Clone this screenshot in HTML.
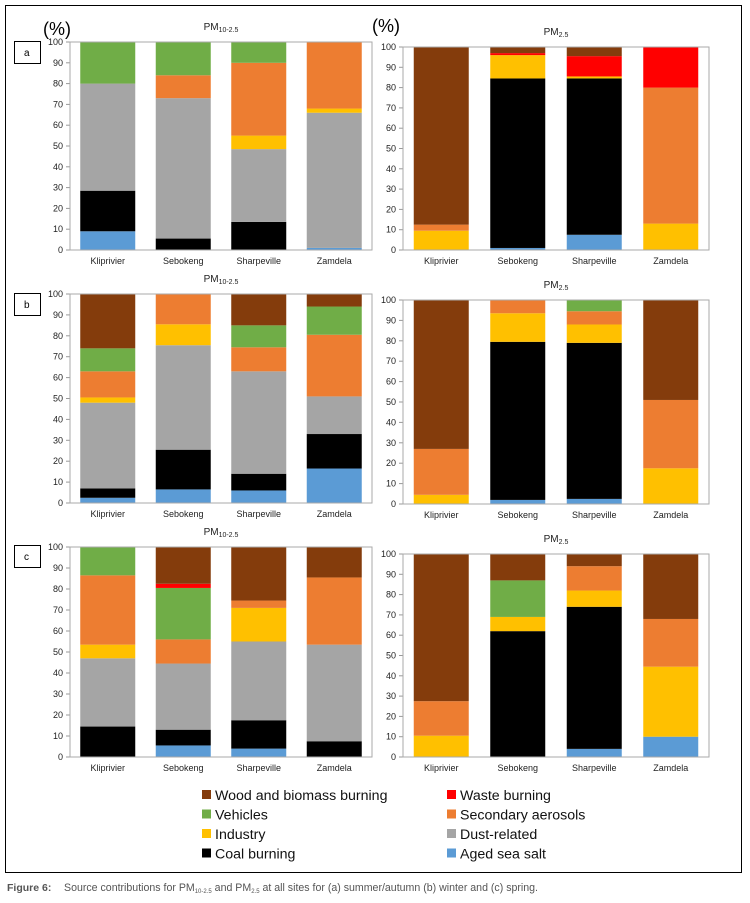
<!DOCTYPE html>
<html><head><meta charset="utf-8"><style>
body{margin:0;background:#fff;width:750px;height:903px;overflow:hidden;font-family:"Liberation Sans",sans-serif}
svg{position:absolute;left:0;top:0}
</style></head><body>
<svg id="fig" width="750" height="903" viewBox="0 0 750 903">
<rect x="5.5" y="5.5" width="736" height="867" fill="none" stroke="#000" stroke-width="1"/>
<text x="43" y="35" font-size="18" fill="#000">(%)</text>
<text x="372" y="32" font-size="18" fill="#000">(%)</text>
<g><rect x="14.5" y="41.5" width="26" height="22" fill="#fff" stroke="#000"/><text x="24" y="56" font-size="10">a</text></g>
<g><rect x="14.5" y="293.5" width="26" height="22" fill="#fff" stroke="#000"/><text x="24" y="308" font-size="10">b</text></g>
<g><rect x="14.5" y="545.5" width="26" height="22" fill="#fff" stroke="#000"/><text x="24" y="560" font-size="10">c</text></g>
<g id="charts"></g>
<g id="legend"></g>
<text x="7" y="891" font-size="10.5" fill="#555" font-weight="bold">Figure 6:</text>
<text x="64" y="891" font-size="10.6" fill="#555">Source contributions for PM<tspan font-size="6" dy="2">10-2.5</tspan><tspan dy="-2"> and PM</tspan><tspan font-size="6" dy="2">2.5</tspan><tspan dy="-2"> at all sites for (a) summer/autumn (b) winter and (c) spring.</tspan></text>
</svg>
<script>
const categories=["Kliprivier","Sebokeng","Sharpeville","Zamdela"];
const seriesNames=["Aged sea salt","Coal burning","Dust-related","Industry","Secondary aerosols","Vehicles","Waste burning","Wood and biomass burning"];
const seriesColors=["#5B9BD5","#000000","#A5A5A5","#FFC000","#ED7D31","#70AD47","#FF0000","#843C0C"];
const yTicks=[0,10,20,30,40,50,60,70,80,90,100];
// segment sizes per series (bottom-up), one value per site
const a10_seaSalt=[9,0,0,1],a10_coal=[19.5,5.5,13.5,0],a10_dust=[51.5,67.5,35,65],a10_industry=[0,0,6.5,2],a10_secondary=[0,11,35,32],a10_vehicles=[20,16,10,0],a10_waste=[0,0,0,0],a10_wood=[0,0,0,0];
const a25_seaSalt=[0,1,7.5,0],a25_coal=[0,83.5,77,0],a25_dust=[0,0,0,0],a25_industry=[9.5,11.5,1,13],a25_secondary=[3,0,0,67],a25_vehicles=[0,0,0,0],a25_waste=[0,1,10,20],a25_wood=[87.5,3,4.5,0];
const b10_seaSalt=[2.5,6.5,6,16.5],b10_coal=[4.5,19,8,16.5],b10_dust=[41,50,49,18],b10_industry=[2.5,10,0,0],b10_secondary=[12.5,14.5,11.5,29.5],b10_vehicles=[11,0,10.5,13.5],b10_waste=[0,0,0,0],b10_wood=[26,0,15,6];
const b25_seaSalt=[0,2,2.5,0],b25_coal=[0,77.5,76.5,0],b25_dust=[0,0,0,0],b25_industry=[4.5,14,9,17.5],b25_secondary=[22.5,6.5,6.5,33.5],b25_vehicles=[0,0,5.5,0],b25_waste=[0,0,0,0],b25_wood=[73,0,0,49];
const c10_seaSalt=[0,5.5,4,0],c10_coal=[14.5,7.5,13.5,7.5],c10_dust=[32.5,31.5,37.5,46],c10_industry=[6.5,0,16,0],c10_secondary=[33,11.5,3.5,32],c10_vehicles=[13.5,24.5,0,0],c10_waste=[0,2,0,0],c10_wood=[0,17.5,25.5,14.5];
const c25_seaSalt=[0,0,4,10],c25_coal=[0,62,70,0],c25_dust=[0,0,0,0],c25_industry=[10.5,7,8,34.5],c25_secondary=[17,0,12,23.5],c25_vehicles=[0,18,0,0],c25_waste=[0,0,0,0],c25_wood=[72.5,13,6,32];

const panels=[
 {id:"a-pm10",title:"10-2.5",x0:70,x1:372,yTop:42,yBot:250,s:[a10_seaSalt,a10_coal,a10_dust,a10_industry,a10_secondary,a10_vehicles,a10_waste,a10_wood]},
 {id:"a-pm25",title:"2.5",x0:403,x1:709,yTop:47,yBot:250,s:[a25_seaSalt,a25_coal,a25_dust,a25_industry,a25_secondary,a25_vehicles,a25_waste,a25_wood]},
 {id:"b-pm10",title:"10-2.5",x0:70,x1:372,yTop:294,yBot:503,s:[b10_seaSalt,b10_coal,b10_dust,b10_industry,b10_secondary,b10_vehicles,b10_waste,b10_wood]},
 {id:"b-pm25",title:"2.5",x0:403,x1:709,yTop:300,yBot:504,s:[b25_seaSalt,b25_coal,b25_dust,b25_industry,b25_secondary,b25_vehicles,b25_waste,b25_wood]},
 {id:"c-pm10",title:"10-2.5",x0:70,x1:372,yTop:547,yBot:757,s:[c10_seaSalt,c10_coal,c10_dust,c10_industry,c10_secondary,c10_vehicles,c10_waste,c10_wood]},
 {id:"c-pm25",title:"2.5",x0:403,x1:709,yTop:554,yBot:757,s:[c25_seaSalt,c25_coal,c25_dust,c25_industry,c25_secondary,c25_vehicles,c25_waste,c25_wood]}
];
const NS="http://www.w3.org/2000/svg";
function mk(tag,attrs,parent){const e=document.createElementNS(NS,tag);for(const k in attrs)e.setAttribute(k,attrs[k]);parent.appendChild(e);return e;}
const root=document.getElementById("charts");
panels.forEach(p=>{
 const g=mk("g",{},root);
 
 
 const y=v=>p.yBot-(v/100)*(p.yBot-p.yTop);
 const band=(p.x1-p.x0)/categories.length, bw=55;
 const xb=i=>p.x0+i*band+(band-bw)/2;
 const t=mk("text",{x:(p.x0+p.x1)/2,y:p.yTop-12,"font-size":10,"text-anchor":"middle",fill:"#222"},g);
 
 
 t.innerHTML='PM<tspan font-size="7" dy="2">'+p.title+'</tspan>';
 yTicks.forEach(v=>{
  const tl=mk("text",{x:p.x0-7,y:y(v)+3,"font-size":9,"text-anchor":"end",fill:"#222"},g);
  
  
  tl.textContent=v;
  mk("line",{x1:p.x0-4,x2:p.x0,y1:y(v),y2:y(v),stroke:"#999"},g);
 });
 categories.forEach((c,i)=>{
  let cum=0;
  p.s.forEach((arr,k)=>{
   const v=arr[i]; if(v<=0)return;
   const r=mk("rect",{x:xb(i),y:y(cum+v),width:bw,height:y(cum)-y(cum+v),fill:seriesColors[k]},g);
   
   
   cum+=v;
  });
  const cl=mk("text",{x:xb(i)+bw/2,y:p.yBot+14,"font-size":9,"text-anchor":"middle",fill:"#222"},g);
  
  
  cl.textContent=c;
 });
 const fr=mk("rect",{x:p.x0,y:p.yTop,width:p.x1-p.x0,height:p.yBot-p.yTop,fill:"none",stroke:"#aaa","stroke-width":1},g);
 
 
});
const lg=document.getElementById("legend");
const legendOrder=[[7,0,0],[6,1,0],[5,0,1],[4,1,1],[3,0,2],[2,1,2],[1,0,3],[0,1,3]];
legendOrder.forEach(([k,col,row])=>{
 const gx=col?447:202, gy=790+row*19.5;
 const e=mk("g",{},lg);
 
 
 mk("rect",{x:gx,y:gy,width:9,height:9,fill:seriesColors[k]},e);
 const tx=mk("text",{x:gx+13,y:gy+10,"font-size":14.2,fill:"#111"},e);
 tx.textContent=seriesNames[k];
});
</script>
</body></html>
